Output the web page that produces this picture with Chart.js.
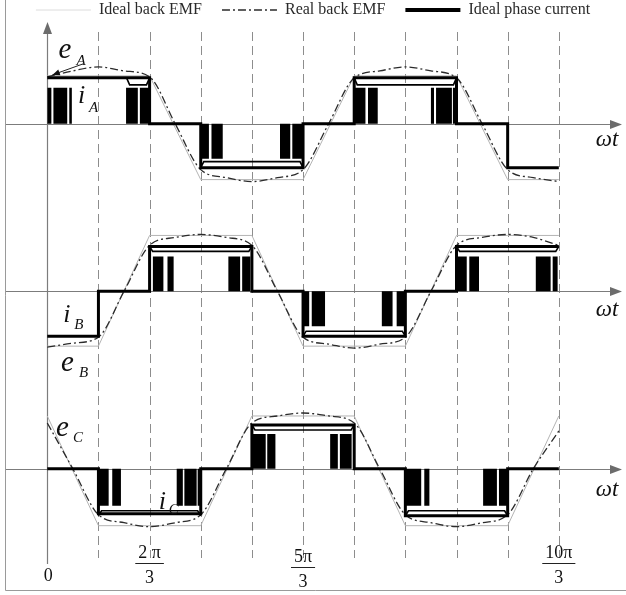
<!DOCTYPE html>
<html>
<head>
<meta charset="utf-8">
<title>BLDC back EMF and phase current</title>
<script src="https://cdn.jsdelivr.net/npm/chart.js@4/dist/chart.umd.min.js"></script>
<style>
  html, body { margin: 0; padding: 0; background: #fff; }
  #wrap { position: relative; width: 626px; height: 595px; overflow: hidden; }
  canvas { display: block; }
</style>
</head>
<body>
<div id="wrap"><canvas id="c" width="626" height="595"></canvas></div>
<script>
// ---------------- data ----------------
// electrical angle, in multiples of π/3
const sectorEdges = [0, 1, 2, 3, 4, 5, 6, 7, 8, 9, 10];
const halfSteps = [0, 0.5, 1, 1.5, 2, 2.5, 3, 3.5, 4, 4.5, 5, 5.5, 6, 6.5, 7, 7.5, 8, 8.5, 9, 9.5, 10];

// ideal trapezoidal back EMF at each sector edge
const idealEmfA = [48, 48, 48, -56, -56, -56, 48, 48, 48, -56, -56];
const idealEmfB = [-55, -55, 56, 56, 56, -55, -55, -55, 56, 56, 56];
const idealEmfC = [53, -57, -57, -57, 53, 53, 53, -57, -57, -57, 53];

// real back EMF, every π/6
const realEmfA = [47, 53, 57, 53, 47, 0, -46, -54, -58, -54, -46, 0, 46, 53, 57, 53, 46, 0, -46, -54, -58];
const realEmfB = [-56, -52, -46, 0, 46, 54, 57, 54, 46, 0, -46, -53, -57, -53, -46, 0, 46, 54, 57, 54, 46];
const realEmfC = [46, 0, -46, -54, -58, -54, -46, 0, 46, 53, 56, 53, 46, 0, -46, -54, -58, -54, -46, 0, 38];

// ideal phase current, one level per π/3 sector
const currentA = [46, 46, 0, -44, -44, 0, 46, 46, 0, -44];
const currentB = [-45, 0, 45, 45, 0, -45, -45, 0, 45, 45];
const currentC = [0, -45, -45, 0, 44, 44, 0, -47, -47, 0];

// chopped current pulses: [start, end, level]
const pwmA = [[0, 0.08, 36], [0.12, 0.39, 36], [0.43, 0.48, 36], [1.54, 1.77, 36], [1.81, 2, 36],
  [3, 3.16, -35], [3.21, 3.43, -35], [4.55, 4.75, -35], [4.79, 5, -35],
  [6, 6.22, 36], [6.27, 6.46, 36], [7.5, 7.56, 36], [7.6, 7.91, 36], [7.93, 7.98, 36]];
const pwmB = [[2.06, 2.27, 35], [2.35, 2.47, 35], [3.54, 3.77, 35], [3.81, 3.97, 35],
  [5, 5.12, -35], [5.17, 5.43, -35], [6.54, 6.75, -35], [6.83, 7, -35],
  [8, 8.2, 35], [8.25, 8.44, 35], [9.55, 9.84, 35], [9.88, 9.98, 35]];
const pwmC = [[1, 1.2, -37], [1.27, 1.44, -37], [2.53, 2.65, -37], [2.68, 2.92, -37], [2.94, 3, -37],
  [4, 4.27, 35], [4.3, 4.46, 35], [5.53, 5.68, 35], [5.72, 5.95, 35],
  [7, 7.31, -37], [7.37, 7.47, -37], [8.52, 8.79, -37], [8.83, 8.99, -37]];

// ripple envelope inside the conduction blocks: [start, end, inner, outer]
const rippleA = [[1.55, 2, 39, 46], [3, 5, -38, -44], [6, 8, 39, 46]];
const rippleB = [[2, 4, 40, 45], [5, 7, -40, -45], [8, 10, 40, 45]];
const rippleC = [[1, 3, -42, -47], [4, 6, 39, 44], [7, 9, -42, -47]];

// angle axis labels
const tickAt = [0, 2, 5, 10];
const tickNum = ['0', '2 π', '5π', '10π'];
const tickDen = ['', '3', '3', '3'];

// ---------------- layout ----------------
const X_ORIGIN = 46;        // pixel column of ωt = 0
const SECTOR_PX = 51.4;     // pixels per π/3
const ROW_ZERO = { yA: 124, yB: 292, yC: 470 };
const GRID_TOP = 22, GRID_BOTTOM = 558;
const AXIS_LEFT = 5, AXIS_TIP = 622;

const SERIF = '"Liberation Serif", "Times New Roman", serif';

const phaseLabels = [
  { axis: 'yA', x: 0.22, y: 66, main: 'e', sub: 'A', dx: 18, dy: 7, size: 29 },
  { axis: 'yA', x: 0.60, y: 21, main: 'i', sub: 'A', dx: 11, dy: 9, size: 26 },
  { axis: 'yB', x: 0.31, y: -31, main: 'i', sub: 'B', dx: 11, dy: 7, size: 26 },
  { axis: 'yB', x: 0.27, y: -80, main: 'e', sub: 'B', dx: 18, dy: 6, size: 29 },
  { axis: 'yC', x: 0.17, y: 33, main: 'e', sub: 'C', dx: 17, dy: 6, size: 29 },
  { axis: 'yC', x: 2.18, y: -40, main: 'i', sub: 'C', dx: 10, dy: 5, size: 26 }
];
const omegaLabels = [
  { axis: 'yA', y: -22 }, { axis: 'yB', y: -25 }, { axis: 'yC', y: -27 }
];

// ---------------- builders ----------------
const pairs = (xs, ys) => xs.map((x, i) => ({ x, y: ys[i] }));
const steps = (levels) => levels.flatMap((v, k) => [{ x: sectorEdges[k], y: v }, { x: sectorEdges[k + 1], y: v }]);
const pulses = (list) => {
  const pts = [];
  list.forEach(([a, b, h]) => pts.push({ x: a, y: 0 }, { x: a, y: h }, { x: b, y: h }, { x: b, y: 0 }));
  return pts;
};
const ripple = (list) => {
  const pts = [];
  list.forEach(([a, b, inner, outer], i) => {
    if (i) pts.push({ x: a, y: null });
    pts.push({ x: a, y: outer }, { x: a + 0.06, y: inner }, { x: b - 0.06, y: inner }, { x: b, y: outer });
  });
  return pts;
};

const phases = [
  { axis: 'yA', ideal: idealEmfA, real: realEmfA, cur: currentA, pwm: pwmA, rip: rippleA },
  { axis: 'yB', ideal: idealEmfB, real: realEmfB, cur: currentB, pwm: pwmB, rip: rippleB },
  { axis: 'yC', ideal: idealEmfC, real: realEmfC, cur: currentC, pwm: pwmC, rip: rippleC }
];

const datasets = [];
phases.forEach((p, i) => {
  datasets.push({
    label: 'Ideal back EMF', legendRank: i === 0 ? 0 : undefined, legendColor: '#dcdcdc',
    yAxisID: p.axis, data: pairs(sectorEdges, p.ideal),
    borderColor: '#b4b4b4', backgroundColor: 'transparent', borderWidth: 1,
    pointRadius: 0, order: 4
  });
  datasets.push({
    label: 'Real back EMF', legendRank: i === 0 ? 1 : undefined,
    yAxisID: p.axis, data: pairs(halfSteps, p.real),
    borderColor: '#2b2b2b', backgroundColor: 'transparent', borderWidth: 1.3,
    borderDash: [8, 3, 2, 3], cubicInterpolationMode: 'monotone',
    pointRadius: 0, order: 3
  });
  datasets.push({
    label: 'Ideal phase current', legendRank: i === 0 ? 2 : undefined,
    yAxisID: p.axis, data: steps(p.cur),
    borderColor: '#000', backgroundColor: 'transparent', borderWidth: 3,
    borderJoinStyle: 'miter', pointRadius: 0, order: 0
  });
  datasets.push({
    label: 'chopped current', yAxisID: p.axis, data: pulses(p.pwm),
    borderColor: 'transparent', borderWidth: 0, backgroundColor: '#000',
    fill: 'origin', pointRadius: 0, order: 2
  });
  datasets.push({
    label: 'ripple envelope', yAxisID: p.axis, data: ripple(p.rip),
    borderColor: '#000', backgroundColor: 'transparent', borderWidth: 1.6,
    spanGaps: false, pointRadius: 0, order: 1
  });
});

// ---------------- drawing helpers ----------------
function arrowHead(ctx, x, y, dir) {
  ctx.beginPath();
  if (dir === 'right') {
    ctx.moveTo(x, y); ctx.lineTo(x - 12, y - 4.5); ctx.lineTo(x - 12, y + 4.5);
  } else {
    ctx.moveTo(x, y); ctx.lineTo(x - 4.5, y + 12); ctx.lineTo(x + 4.5, y + 12);
  }
  ctx.closePath(); ctx.fill();
}

const decor = {
  id: 'decor',
  beforeDatasetsDraw(chart) {
    const { ctx, scales } = chart;
    const x = scales.x;
    ctx.save();
    // sector boundaries
    ctx.strokeStyle = '#8d8d8d'; ctx.lineWidth = 1; ctx.setLineDash([9, 5]);
    for (let k = 1; k < sectorEdges.length; k++) {
      const px = Math.round(x.getPixelForValue(sectorEdges[k])) + 0.5;
      ctx.beginPath(); ctx.moveTo(px, GRID_TOP + 10); ctx.lineTo(px, GRID_BOTTOM); ctx.stroke();
    }
    ctx.setLineDash([]);
    // ωt axes of the three phases
    ctx.strokeStyle = '#7c7c7c'; ctx.fillStyle = '#6c6c6c'; ctx.lineWidth = 1.2;
    ['yA', 'yB', 'yC'].forEach(id => {
      const py = Math.round(scales[id].getPixelForValue(0)) + 0.5;
      ctx.beginPath(); ctx.moveTo(AXIS_LEFT, py); ctx.lineTo(AXIS_TIP - 8, py); ctx.stroke();
      arrowHead(ctx, AXIS_TIP, py, 'right');
    });
    // vertical axis
    const x0 = Math.round(x.getPixelForValue(0)) + 0.5;
    ctx.beginPath(); ctx.moveTo(x0, 564); ctx.lineTo(x0, GRID_TOP + 8); ctx.stroke();
    arrowHead(ctx, x0, GRID_TOP, 'up');
    // frame
    ctx.strokeStyle = '#9a9a9a'; ctx.lineWidth = 1;
    ctx.beginPath(); ctx.moveTo(5.5, 0); ctx.lineTo(5.5, 590.5); ctx.lineTo(626, 590.5); ctx.stroke();
    ctx.restore();
  },
  afterDatasetsDraw(chart) {
    const { ctx, scales } = chart;
    const x = scales.x;
    ctx.save();
    ctx.fillStyle = '#111';
    ctx.textBaseline = 'alphabetic';
    ctx.textAlign = 'left';
    // phase symbols
    phaseLabels.forEach(l => {
      const px = x.getPixelForValue(l.x), py = scales[l.axis].getPixelForValue(l.y);
      ctx.font = 'italic ' + l.size + 'px ' + SERIF;
      ctx.fillText(l.main, px, py);
      ctx.font = 'italic 15px ' + SERIF;
      ctx.fillText(l.sub, px + l.dx, py + l.dy);
    });
    // pointer from e_A to its curve
    const ax = x.getPixelForValue(0.7), ay = scales.yA.getPixelForValue(60);
    const bx = x.getPixelForValue(0.1), by = scales.yA.getPixelForValue(49);
    ctx.strokeStyle = '#222'; ctx.lineWidth = 1;
    ctx.beginPath(); ctx.moveTo(ax, ay); ctx.lineTo(bx, by); ctx.stroke();
    const ang = Math.atan2(by - ay, bx - ax);
    ctx.beginPath();
    ctx.moveTo(bx, by);
    ctx.lineTo(bx - 8 * Math.cos(ang - 0.4), by - 8 * Math.sin(ang - 0.4));
    ctx.lineTo(bx - 8 * Math.cos(ang + 0.4), by - 8 * Math.sin(ang + 0.4));
    ctx.closePath(); ctx.fill();
    // ωt
    ctx.font = 'italic 23px ' + SERIF;
    omegaLabels.forEach(l => {
      ctx.fillText('ωt', x.getPixelForValue(10.72), scales[l.axis].getPixelForValue(l.y));
    });
    // angle labels
    ctx.textAlign = 'center';
    ctx.strokeStyle = '#222'; ctx.lineWidth = 1;
    tickAt.forEach((t, i) => {
      const px = x.getPixelForValue(t);
      ctx.font = '18px ' + SERIF;
      if (!tickDen[i]) {
        ctx.fillText(tickNum[i], px + 1, 581);
        return;
      }
      const drop = t === 5 ? 4 : 0;
      ctx.fillText(tickNum[i], px, 558 + drop);
      ctx.fillText(tickDen[i], px, 583 + drop);
      const w = ctx.measureText(tickNum[i]).width + 6;
      ctx.beginPath();
      ctx.moveTo(px - w / 2, 563.5 + drop); ctx.lineTo(px + w / 2, 563.5 + drop); ctx.stroke();
    });
    ctx.restore();
  }
};

// legend samples take the line style of their dataset
function legendItems(chart) {
  const base = Chart.defaults.plugins.legend.labels.generateLabels(chart);
  return base.map(item => {
    const ds = chart.data.datasets[item.datasetIndex];
    item.lineDash = ds.borderDash || [];
    item.lineWidth = ds.legendRank === 2 ? 4 : ds.borderWidth;
    item.strokeStyle = ds.legendColor || ds.borderColor;
    return item;
  });
}

const hiddenY = { type: 'linear', display: false, bounds: 'data', min: -100, max: 100 };

const chart = new Chart(document.getElementById('c'), {
  type: 'line',
  data: { datasets },
  options: {
    responsive: false,
    animation: false,
    events: [],
    layout: { padding: { top: -18, left: 0, right: 0, bottom: 0 } },
    elements: { line: { tension: 0 } },
    scales: {
      x: { type: 'linear', display: false, bounds: 'data', min: -1, max: 11 },
      yA: Object.assign({}, hiddenY),
      yB: Object.assign({}, hiddenY),
      yC: Object.assign({}, hiddenY)
    },
    plugins: {
      tooltip: { enabled: false },
      legend: {
        display: true,
        position: 'top',
        labels: {
          generateLabels: legendItems,
          filter: (item, data) => data.datasets[item.datasetIndex].legendRank !== undefined,
          sort: (a, b, data) => data.datasets[a.datasetIndex].legendRank - data.datasets[b.datasetIndex].legendRank,
          usePointStyle: true,
          pointStyle: 'line',
          pointStyleWidth: 55,
          padding: 20,
          color: '#2a2a2a',
          font: { family: SERIF, size: 16 }
        }
      }
    }
  },
  plugins: [decor]
});

// place θ = 0 and each phase's zero line at their columns/rows
(function fitScales() {
  const a = chart.chartArea;
  const s = chart.options.scales;
  s.x.min = (a.left - X_ORIGIN) / SECTOR_PX;
  s.x.max = (a.right - X_ORIGIN) / SECTOR_PX;
  ['yA', 'yB', 'yC'].forEach(id => {
    s[id].max = ROW_ZERO[id] - a.top;
    s[id].min = ROW_ZERO[id] - a.bottom;
  });
  chart.update('none');
})();
</script>
</body>
</html>
